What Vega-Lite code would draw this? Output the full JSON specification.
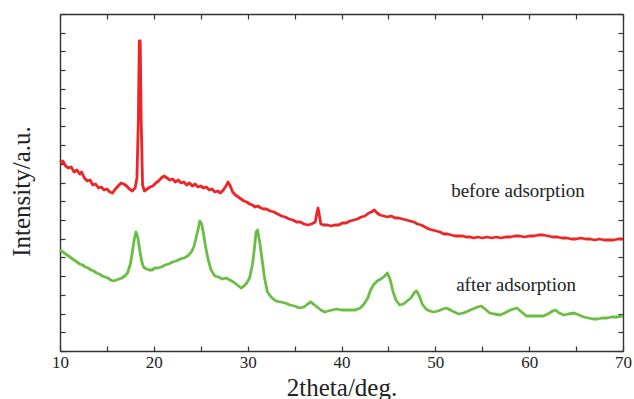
{
  "$schema": "https://vega.github.io/schema/vega-lite/v6.json",
  "width": 563,
  "height": 337,
  "autosize": "none",
  "padding": {"left": 60, "top": 14, "right": 11, "bottom": 48},
  "background": "white",
  "config": {
    "view": {"stroke": null},
    "axis": {
      "grid": false,
      "domainColor": "#333333",
      "domainWidth": 1.4,
      "tickColor": "#333333",
      "tickWidth": 1.2,
      "tickSize": -5,
      "labelFont": "Liberation Serif",
      "labelFontSize": 17,
      "labelColor": "#222222",
      "titleFont": "Liberation Serif",
      "titleFontSize": 25,
      "titleFontWeight": "normal",
      "titleColor": "#222222"
    }
  },
  "datasets": {
    "xrd": [
      {"s":"before","t":10.0,"v":188},{"s":"before","t":10.3,"v":190},{"s":"before","t":10.6,"v":185},{"s":"before","t":10.9,"v":183},{"s":"before","t":11.2,"v":184},{"s":"before","t":11.5,"v":179},{"s":"before","t":11.8,"v":181},{"s":"before","t":12.1,"v":177},{"s":"before","t":12.3,"v":179},{"s":"before","t":12.6,"v":173},{"s":"before","t":12.9,"v":170},{"s":"before","t":13.2,"v":171},{"s":"before","t":13.5,"v":166},{"s":"before","t":13.8,"v":167},{"s":"before","t":14.1,"v":163},{"s":"before","t":14.4,"v":164},{"s":"before","t":14.7,"v":161},{"s":"before","t":15.0,"v":162},{"s":"before","t":15.3,"v":159},{"s":"before","t":15.6,"v":158},{"s":"before","t":15.9,"v":162},{"s":"before","t":16.2,"v":165},{"s":"before","t":16.5,"v":168},{"s":"before","t":16.8,"v":167},{"s":"before","t":17.1,"v":165},{"s":"before","t":17.4,"v":162},{"s":"before","t":17.7,"v":160},{"s":"before","t":18.0,"v":163},{"s":"before","t":18.2,"v":173},{"s":"before","t":18.35,"v":231},{"s":"before","t":18.45,"v":310},{"s":"before","t":18.55,"v":310},{"s":"before","t":18.65,"v":231},{"s":"before","t":18.8,"v":166},{"s":"before","t":19.0,"v":160},{"s":"before","t":19.3,"v":162},{"s":"before","t":19.6,"v":164},{"s":"before","t":19.9,"v":165},{"s":"before","t":20.2,"v":168},{"s":"before","t":20.5,"v":170},{"s":"before","t":20.8,"v":173},{"s":"before","t":21.1,"v":175},{"s":"before","t":21.4,"v":173},{"s":"before","t":21.7,"v":171},{"s":"before","t":22.0,"v":172},{"s":"before","t":22.3,"v":169},{"s":"before","t":22.6,"v":171},{"s":"before","t":22.9,"v":168},{"s":"before","t":23.2,"v":169},{"s":"before","t":23.5,"v":166},{"s":"before","t":23.8,"v":168},{"s":"before","t":24.1,"v":165},{"s":"before","t":24.4,"v":167},{"s":"before","t":24.7,"v":164},{"s":"before","t":25.0,"v":165},{"s":"before","t":25.3,"v":163},{"s":"before","t":25.6,"v":164},{"s":"before","t":25.9,"v":161},{"s":"before","t":26.2,"v":162},{"s":"before","t":26.5,"v":159},{"s":"before","t":26.8,"v":160},{"s":"before","t":27.1,"v":158},{"s":"before","t":27.4,"v":161},{"s":"before","t":27.7,"v":165},{"s":"before","t":27.9,"v":169},{"s":"before","t":28.1,"v":166},{"s":"before","t":28.4,"v":159},{"s":"before","t":28.7,"v":156},{"s":"before","t":29.0,"v":154},{"s":"before","t":29.3,"v":152},{"s":"before","t":29.6,"v":150},{"s":"before","t":29.9,"v":149},{"s":"before","t":30.2,"v":147},{"s":"before","t":30.5,"v":146},{"s":"before","t":30.8,"v":144},{"s":"before","t":31.1,"v":145},{"s":"before","t":31.4,"v":143},{"s":"before","t":31.7,"v":142},{"s":"before","t":32.0,"v":142},{"s":"before","t":32.4,"v":140},{"s":"before","t":32.8,"v":139},{"s":"before","t":33.2,"v":137},{"s":"before","t":33.6,"v":135},{"s":"before","t":34.0,"v":134},{"s":"before","t":34.4,"v":132},{"s":"before","t":34.8,"v":131},{"s":"before","t":35.2,"v":129},{"s":"before","t":35.6,"v":129},{"s":"before","t":36.0,"v":127},{"s":"before","t":36.4,"v":126},{"s":"before","t":36.8,"v":127},{"s":"before","t":37.2,"v":129},{"s":"before","t":37.4,"v":139},{"s":"before","t":37.5,"v":143},{"s":"before","t":37.6,"v":138},{"s":"before","t":37.8,"v":127},{"s":"before","t":38.1,"v":126},{"s":"before","t":38.5,"v":126},{"s":"before","t":38.9,"v":125},{"s":"before","t":39.3,"v":126},{"s":"before","t":39.7,"v":126},{"s":"before","t":40.1,"v":128},{"s":"before","t":40.5,"v":128},{"s":"before","t":40.9,"v":130},{"s":"before","t":41.3,"v":131},{"s":"before","t":41.7,"v":132},{"s":"before","t":42.1,"v":134},{"s":"before","t":42.5,"v":135},{"s":"before","t":42.9,"v":138},{"s":"before","t":43.2,"v":139},{"s":"before","t":43.5,"v":141},{"s":"before","t":43.8,"v":138},{"s":"before","t":44.1,"v":136},{"s":"before","t":44.5,"v":135},{"s":"before","t":44.9,"v":134},{"s":"before","t":45.3,"v":135},{"s":"before","t":45.7,"v":133},{"s":"before","t":46.1,"v":133},{"s":"before","t":46.5,"v":132},{"s":"before","t":46.9,"v":131},{"s":"before","t":47.3,"v":130},{"s":"before","t":47.7,"v":129},{"s":"before","t":48.1,"v":127},{"s":"before","t":48.5,"v":126},{"s":"before","t":48.9,"v":124},{"s":"before","t":49.3,"v":122},{"s":"before","t":49.7,"v":121},{"s":"before","t":50.1,"v":120},{"s":"before","t":50.5,"v":119},{"s":"before","t":50.9,"v":117},{"s":"before","t":51.3,"v":117},{"s":"before","t":51.7,"v":116},{"s":"before","t":52.1,"v":115},{"s":"before","t":52.5,"v":115},{"s":"before","t":52.9,"v":115},{"s":"before","t":53.3,"v":114},{"s":"before","t":53.7,"v":114},{"s":"before","t":54.1,"v":113},{"s":"before","t":54.5,"v":114},{"s":"before","t":55.0,"v":113},{"s":"before","t":55.5,"v":114},{"s":"before","t":56.0,"v":113},{"s":"before","t":56.5,"v":114},{"s":"before","t":57.0,"v":113},{"s":"before","t":57.5,"v":114},{"s":"before","t":58.0,"v":114},{"s":"before","t":58.5,"v":115},{"s":"before","t":59.0,"v":115},{"s":"before","t":59.5,"v":114},{"s":"before","t":60.0,"v":115},{"s":"before","t":60.5,"v":115},{"s":"before","t":61.0,"v":116},{"s":"before","t":61.5,"v":116},{"s":"before","t":62.0,"v":115},{"s":"before","t":62.5,"v":114},{"s":"before","t":63.0,"v":114},{"s":"before","t":63.5,"v":113},{"s":"before","t":64.0,"v":113},{"s":"before","t":64.5,"v":112},{"s":"before","t":65.0,"v":112},{"s":"before","t":65.5,"v":113},{"s":"before","t":66.0,"v":112},{"s":"before","t":66.5,"v":112},{"s":"before","t":67.0,"v":111},{"s":"before","t":67.5,"v":112},{"s":"before","t":68.0,"v":111},{"s":"before","t":68.5,"v":111},{"s":"before","t":69.0,"v":111},{"s":"before","t":69.5,"v":112},{"s":"before","t":70.0,"v":112},
      {"s":"after","t":10.0,"v":101},{"s":"after","t":10.3,"v":99},{"s":"after","t":10.6,"v":97},{"s":"after","t":10.9,"v":95},{"s":"after","t":11.2,"v":93},{"s":"after","t":11.5,"v":91},{"s":"after","t":11.8,"v":89},{"s":"after","t":12.1,"v":87},{"s":"after","t":12.4,"v":86},{"s":"after","t":12.7,"v":84},{"s":"after","t":13.0,"v":83},{"s":"after","t":13.3,"v":81},{"s":"after","t":13.6,"v":80},{"s":"after","t":13.9,"v":78},{"s":"after","t":14.2,"v":77},{"s":"after","t":14.5,"v":75},{"s":"after","t":14.8,"v":74},{"s":"after","t":15.1,"v":73},{"s":"after","t":15.4,"v":71},{"s":"after","t":15.7,"v":70},{"s":"after","t":16.0,"v":71},{"s":"after","t":16.3,"v":72},{"s":"after","t":16.6,"v":73},{"s":"after","t":16.9,"v":75},{"s":"after","t":17.2,"v":78},{"s":"after","t":17.5,"v":87},{"s":"after","t":17.7,"v":98},{"s":"after","t":17.9,"v":111},{"s":"after","t":18.1,"v":119},{"s":"after","t":18.3,"v":113},{"s":"after","t":18.5,"v":101},{"s":"after","t":18.7,"v":90},{"s":"after","t":18.9,"v":84},{"s":"after","t":19.2,"v":82},{"s":"after","t":19.5,"v":81},{"s":"after","t":19.8,"v":81},{"s":"after","t":20.1,"v":83},{"s":"after","t":20.4,"v":83},{"s":"after","t":20.8,"v":84},{"s":"after","t":21.2,"v":86},{"s":"after","t":21.6,"v":87},{"s":"after","t":22.0,"v":89},{"s":"after","t":22.4,"v":90},{"s":"after","t":22.8,"v":92},{"s":"after","t":23.2,"v":93},{"s":"after","t":23.6,"v":95},{"s":"after","t":24.0,"v":99},{"s":"after","t":24.3,"v":105},{"s":"after","t":24.5,"v":113},{"s":"after","t":24.7,"v":121},{"s":"after","t":24.9,"v":130},{"s":"after","t":25.1,"v":127},{"s":"after","t":25.3,"v":117},{"s":"after","t":25.5,"v":105},{"s":"after","t":25.8,"v":91},{"s":"after","t":26.1,"v":81},{"s":"after","t":26.5,"v":75},{"s":"after","t":26.9,"v":74},{"s":"after","t":27.3,"v":72},{"s":"after","t":27.7,"v":73},{"s":"after","t":28.1,"v":71},{"s":"after","t":28.5,"v":69},{"s":"after","t":28.9,"v":66},{"s":"after","t":29.3,"v":63},{"s":"after","t":29.6,"v":65},{"s":"after","t":29.9,"v":68},{"s":"after","t":30.2,"v":73},{"s":"after","t":30.5,"v":86},{"s":"after","t":30.7,"v":101},{"s":"after","t":30.9,"v":119},{"s":"after","t":31.05,"v":121},{"s":"after","t":31.3,"v":108},{"s":"after","t":31.5,"v":94},{"s":"after","t":31.8,"v":73},{"s":"after","t":32.1,"v":59},{"s":"after","t":32.5,"v":54},{"s":"after","t":33.0,"v":50},{"s":"after","t":33.5,"v":49},{"s":"after","t":34.0,"v":48},{"s":"after","t":34.5,"v":46},{"s":"after","t":35.0,"v":45},{"s":"after","t":35.5,"v":43},{"s":"after","t":36.0,"v":44},{"s":"after","t":36.4,"v":47},{"s":"after","t":36.7,"v":49},{"s":"after","t":37.0,"v":47},{"s":"after","t":37.4,"v":44},{"s":"after","t":37.8,"v":41},{"s":"after","t":38.2,"v":39},{"s":"after","t":38.6,"v":40},{"s":"after","t":39.0,"v":41},{"s":"after","t":39.5,"v":42},{"s":"after","t":40.0,"v":41},{"s":"after","t":40.5,"v":41},{"s":"after","t":41.0,"v":41},{"s":"after","t":41.5,"v":41},{"s":"after","t":42.0,"v":43},{"s":"after","t":42.4,"v":47},{"s":"after","t":42.8,"v":53},{"s":"after","t":43.1,"v":61},{"s":"after","t":43.4,"v":66},{"s":"after","t":43.8,"v":70},{"s":"after","t":44.2,"v":72},{"s":"after","t":44.6,"v":75},{"s":"after","t":44.9,"v":78},{"s":"after","t":45.2,"v":71},{"s":"after","t":45.5,"v":59},{"s":"after","t":45.8,"v":51},{"s":"after","t":46.2,"v":46},{"s":"after","t":46.6,"v":47},{"s":"after","t":47.0,"v":50},{"s":"after","t":47.4,"v":53},{"s":"after","t":47.8,"v":59},{"s":"after","t":48.0,"v":60},{"s":"after","t":48.3,"v":55},{"s":"after","t":48.6,"v":47},{"s":"after","t":49.0,"v":42},{"s":"after","t":49.4,"v":40},{"s":"after","t":49.8,"v":39},{"s":"after","t":50.3,"v":40},{"s":"after","t":50.8,"v":42},{"s":"after","t":51.2,"v":43},{"s":"after","t":51.6,"v":41},{"s":"after","t":52.0,"v":39},{"s":"after","t":52.5,"v":37},{"s":"after","t":53.0,"v":38},{"s":"after","t":53.5,"v":40},{"s":"after","t":54.0,"v":42},{"s":"after","t":54.5,"v":44},{"s":"after","t":54.9,"v":45},{"s":"after","t":55.3,"v":42},{"s":"after","t":55.8,"v":38},{"s":"after","t":56.3,"v":37},{"s":"after","t":56.9,"v":36},{"s":"after","t":57.4,"v":38},{"s":"after","t":58.0,"v":41},{"s":"after","t":58.7,"v":43},{"s":"after","t":59.2,"v":39},{"s":"after","t":59.7,"v":35},{"s":"after","t":60.3,"v":35},{"s":"after","t":60.9,"v":35},{"s":"after","t":61.5,"v":35},{"s":"after","t":62.0,"v":37},{"s":"after","t":62.5,"v":40},{"s":"after","t":62.8,"v":41},{"s":"after","t":63.2,"v":38},{"s":"after","t":63.7,"v":36},{"s":"after","t":64.2,"v":37},{"s":"after","t":64.8,"v":38},{"s":"after","t":65.3,"v":36},{"s":"after","t":65.8,"v":34},{"s":"after","t":66.3,"v":33},{"s":"after","t":66.8,"v":32},{"s":"after","t":67.3,"v":32},{"s":"after","t":67.8,"v":33},{"s":"after","t":68.3,"v":33},{"s":"after","t":68.8,"v":34},{"s":"after","t":69.3,"v":34},{"s":"after","t":70.0,"v":35}
    ],
    "labels": [
      {"label": "before adsorption", "t": 58.8, "v": 154},
      {"label": "after adsorption", "t": 58.6, "v": 60}
    ]
  },
  "layer": [
    {
      "data": {"name": "xrd"},
      "mark": {"type": "line", "strokeWidth": 2.8, "strokeJoin": "round"},
      "encoding": {
        "x": {
          "field": "t", "type": "quantitative",
          "scale": {"domain": [10, 70], "nice": false, "zero": false},
          "axis": {
            "orient": "bottom",
            "values": [10, 15, 20, 25, 30, 35, 40, 45, 50, 55, 60, 65, 70],
            "labelExpr": "datum.value % 10 === 0 ? datum.label : ''",
            "labelFont": "Liberation Serif",
            "labelFontSize": 17,
            "labelOverlap": false,
            "labelFlush": false,
            "labelPadding": 8,
            "title": "2theta/deg.",
            "titleBaseline": "alphabetic",
            "titleY": 44
          }
        },
        "y": {
          "field": "v", "type": "quantitative",
          "scale": {"domain": [0, 337], "nice": false, "zero": false},
          "axis": {
            "orient": "left",
            "values": [0, 18.72, 37.44, 56.17, 74.89, 93.61, 112.33, 131.06, 149.78, 168.5, 187.22, 205.94, 224.67, 243.39, 262.11, 280.83, 299.56, 318.28, 337],
            "labels": false,
            "title": "Intensity/a.u.",
            "titleBaseline": "alphabetic",
            "titleX": -31,
            "titleY": 177
          }
        },
        "color": {
          "field": "s", "type": "nominal",
          "scale": {"domain": ["before", "after"], "range": ["#ee2526", "#6cbd45"]},
          "legend": null
        }
      }
    },
    {
      "data": {"name": "labels"},
      "mark": {"type": "text", "font": "Liberation Serif", "fontSize": 19, "baseline": "alphabetic", "align": "center", "color": "#222222"},
      "encoding": {
        "x": {
          "field": "t", "type": "quantitative",
          "scale": {"domain": [10, 70], "nice": false, "zero": false},
          "axis": {
            "orient": "top",
            "values": [10, 15, 20, 25, 30, 35, 40, 45, 50, 55, 60, 65, 70],
            "labels": false,
            "title": null
          }
        },
        "y": {
          "field": "v", "type": "quantitative",
          "scale": {"domain": [0, 337], "nice": false, "zero": false},
          "axis": {
            "orient": "right",
            "values": [0, 18.72, 37.44, 56.17, 74.89, 93.61, 112.33, 131.06, 149.78, 168.5, 187.22, 205.94, 224.67, 243.39, 262.11, 280.83, 299.56, 318.28, 337],
            "labels": false,
            "title": null
          }
        },
        "text": {"field": "label", "type": "nominal"}
      }
    }
  ],
  "resolve": {"axis": {"x": "independent", "y": "independent"}}
}
